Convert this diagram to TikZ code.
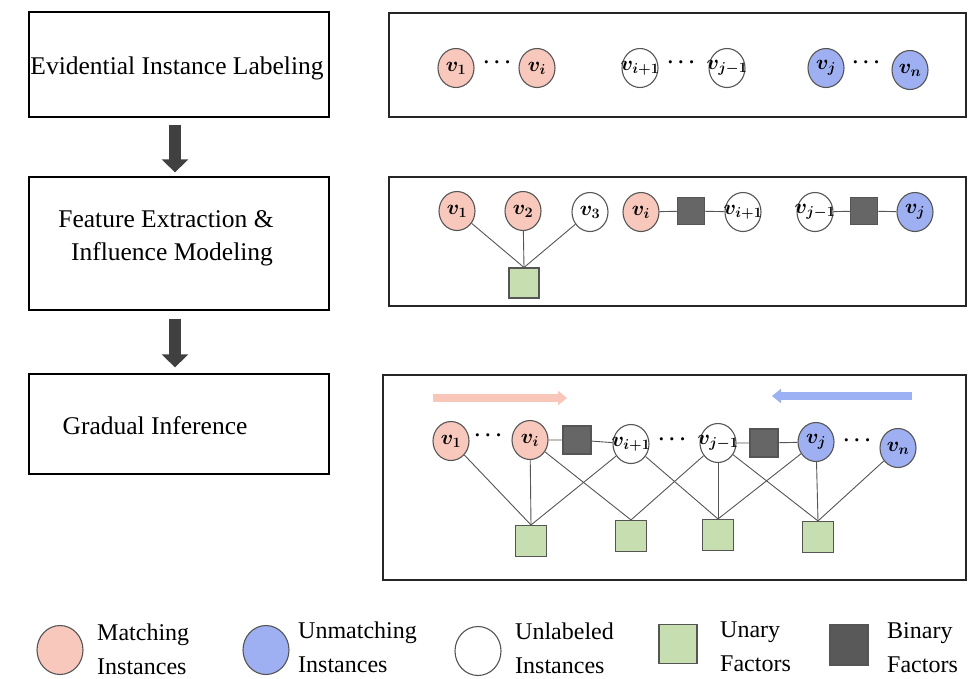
\documentclass[tikz,border=0pt]{standalone}
\usepackage{fontspec}
\setmainfont{Liberation Serif}
\usetikzlibrary{arrows.meta,shapes.geometric}

\definecolor{matchpink}{RGB}{248,200,188}
\definecolor{unmatchblue}{RGB}{158,176,242}
\definecolor{unaryg}{RGB}{199,222,176}
\definecolor{binaryg}{RGB}{102,102,102}
\definecolor{binaryleg}{RGB}{89,89,89}
\definecolor{rimgray}{RGB}{85,85,85}
\definecolor{arrowpink}{RGB}{249,198,186}
\definecolor{arrowblue}{RGB}{156,177,243}

\newcommand{\vlab}[1]{\makebox[0pt]{$#1$}}

\tikzset{
  stagebox/.style={draw=black, line width=1.3pt, minimum width=300pt, inner sep=0pt},
  panelbox/.style={draw=black!85, line width=1.3pt, inner sep=0pt},
  stagetext/.style={font=\fontsize{25.5}{28}\selectfont, inner sep=0pt},
  inst/.style={ellipse, draw=rimgray, line width=1.1pt, minimum width=36pt, minimum height=39pt, inner sep=0pt, font=\fontsize{21}{22}\selectfont\boldmath},
  matchinst/.style={inst, fill=matchpink},
  unmatchinst/.style={inst, fill=unmatchblue},
  freeinst/.style={inst, fill=white},
  unaryf/.style={draw=rimgray, line width=1.1pt, fill=unaryg, minimum size=30pt, inner sep=0pt},
  binaryf/.style={draw=rimgray, line width=1.1pt, fill=binaryg, minimum size=27pt, inner sep=0pt},
  edge/.style={draw=rimgray, line width=0.9pt},
  gapdots/.style={font=\fontsize{22}{22}\selectfont\boldmath, inner sep=0pt},
  flowarrow/.style={line width=12pt, draw=black!75, -{Triangle[width=26pt,length=13pt]}},
  legcirc/.style={ellipse, draw=rimgray, line width=1.1pt, minimum width=46pt, minimum height=49pt, inner sep=0pt},
  legsq/.style={draw=rimgray, line width=1.1pt, minimum width=38pt, minimum height=39pt, inner sep=0pt},
  legtext/.style={font=\fontsize{24}{34}\selectfont, align=left, anchor=west, inner sep=0pt},
}

\begin{document}
\begin{tikzpicture}[x=1pt, y=-1pt]
  \useasboundingbox (0,0) rectangle (969,678);
%  \draw [help lines] (0,0) grid[step=50] (969,678);

  % left column: the three stages
  \node [stagebox, minimum height=105pt] (stage1) at (179,64.5) {};
  \node [stagebox, minimum height=133pt] (stage2) at (179,243.5) {};
  \node [stagebox, minimum height=100pt] (stage3) at (179,424) {};
  \node [stagetext] (title1) at (177,68) {Evidential Instance Labeling};
  \node [stagetext] (title2a) at (166,219) {Feature Extraction \&};
  \node [stagetext] (title2b) at (172,254) {Influence Modeling};
  \node [stagetext] (title3) at (155,426) {Gradual Inference};
  \draw [flowarrow, shorten <=7pt, shorten >=4pt] ([xshift=-4pt]stage1.south) -- ([xshift=-4pt]stage2.north);
  \draw [flowarrow, shorten <=8pt, shorten >=6pt] ([xshift=-4pt]stage2.south) -- ([xshift=-4pt]stage3.north);

  % panel 1: labeling
  \node [panelbox, minimum width=577pt, minimum height=104pt] (panel1) at (677.5,65) {};
  \node [matchinst] (l1) at (456,68) {\vlab{v_1}};
  \node [gapdots] (ldots1) at (497,63) {$\cdots$};
  \node [matchinst] (li) at (537,68) {\vlab{v_i}};
  \node [freeinst] (lip) at (640,68) {\vlab{v_{i+1}}};
  \node [gapdots] (ldots2) at (681,63) {$\cdots$};
  \node [freeinst] (ljm) at (727,68) {\vlab{v_{j-1}}};
  \node [unmatchinst] (lj) at (826,68) {\vlab{v_j}};
  \node [gapdots] (ldots3) at (866,63) {$\cdots$};
  \node [unmatchinst] (ln) at (910,70) {\vlab{v_n}};

  % panel 2: features and influence
  \node [panelbox, minimum width=577pt, minimum height=129pt] (panel2) at (677.5,241.5) {};
  \node [matchinst] (f1) at (457,211) {\vlab{v_1}};
  \node [matchinst] (f2) at (523,211) {\vlab{v_2}};
  \node [freeinst] (f3) at (590,212) {\vlab{v_3}};
  \node [matchinst] (fi) at (641,212) {\vlab{v_i}};
  \node [binaryf] (fbin1) at (691,211) {};
  \node [freeinst] (fip) at (743,212) {\vlab{v_{i+1}}};
  \node [freeinst] (fjm) at (815,212) {\vlab{v_{j-1}}};
  \node [binaryf] (fbin2) at (864,211) {};
  \node [unmatchinst] (fj) at (915,212) {\vlab{v_j}};
  \node [unaryf] (fu) at (524,283) {};
  \foreach \v in {f1,f2,f3} \draw [edge] (\v) -- (fu.north);
  \draw [edge] (fi) -- (fbin1) -- (fip);
  \draw [edge] (fjm) -- (fbin2) -- (fj);

  % panel 3: gradual inference
  \node [panelbox, minimum width=583pt, minimum height=205pt] (panel3) at (674.5,477.5) {};
  \coordinate (pinkfrom) at (433,398);
  \coordinate (pinkto) at (567,398);
  \coordinate (bluefrom) at (912,396);
  \coordinate (blueto) at (772,396);
  \draw [line width=8pt, arrowpink, -{Triangle[width=14pt,length=9pt]}] (pinkfrom) -- (pinkto);
  \draw [line width=8pt, arrowblue, -{Triangle[width=14pt,length=9pt]}] (bluefrom) -- (blueto);
  \node [matchinst] (g1) at (451,441) {\vlab{v_1}};
  \node [gapdots] (gdots1) at (488,436) {$\cdots$};
  \node [matchinst] (gi) at (530,440) {\vlab{v_i}};
  \node [binaryf, minimum size=28pt] (gbin1) at (577,440) {};
  \node [freeinst] (gip) at (631,444) {\vlab{v_{i+1}}};
  \node [gapdots] (gdots2) at (672,440) {$\cdots$};
  \node [freeinst] (gjm) at (718,443) {\vlab{v_{j-1}}};
  \node [binaryf, minimum size=28pt] (gbin2) at (764,443) {};
  \node [unmatchinst] (gj) at (816,442) {\vlab{v_j}};
  \node [gapdots] (gdots3) at (857,441) {$\cdots$};
  \node [unmatchinst] (gn) at (898,448) {\vlab{v_n}};
  \node [unaryf, minimum size=31pt] (gu1) at (531,541) {};
  \node [unaryf, minimum size=31pt] (gu2) at (631,536) {};
  \node [unaryf, minimum size=31pt] (gu3) at (718,535) {};
  \node [unaryf, minimum size=31pt] (gu4) at (818,537) {};
  \draw [edge] (gi) -- (gbin1) -- (gip);
  \draw [edge] (gjm) -- (gbin2) -- (gj);
  \foreach \a/\b in {g1/gu1, gi/gu1, gip/gu1, gi/gu2, gjm/gu2, gip/gu3, gjm/gu3, gj/gu3, gjm/gu4, gj/gu4, gn/gu4}
    \draw [edge] (\a) -- (\b.north);

  % legend
  \node [legcirc, fill=matchpink] (keymatch) at (60,650) {};
  \node [legtext] (keymatchtext) at (97,649) {Matching\\Instances};
  \node [legcirc, fill=unmatchblue] (keyunmatch) at (266,650) {};
  \node [legtext] (keyunmatchtext) at (298,647) {Unmatching\\Instances};
  \node [legcirc, fill=white] (keyfree) at (478,651) {};
  \node [legtext] (keyfreetext) at (515,648) {Unlabeled\\Instances};
  \node [legsq, fill=unaryg] (keyunary) at (678,644) {};
  \node [legtext] (keyunarytext) at (720,647) {Unary\\Factors};
  \node [legsq, fill=binaryleg, minimum height=40pt] (keybinary) at (849,645) {};
  \node [legtext] (keybinarytext) at (887,648) {Binary\\Factors};
\end{tikzpicture}
\end{document}
